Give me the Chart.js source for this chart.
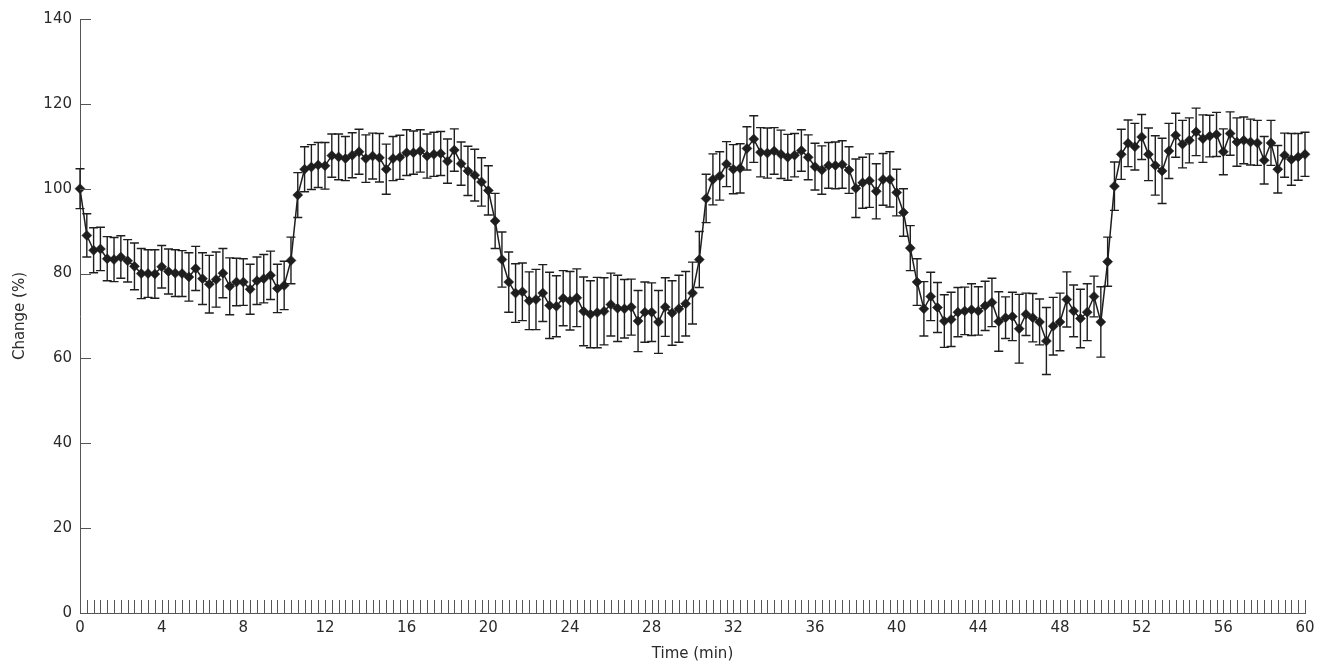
<!DOCTYPE html>
<html>
<head>
<meta charset="utf-8">
<title>Change (%) over time</title>
<script src="https://cdn.jsdelivr.net/npm/chart.js@4.4.1/dist/chart.umd.min.js"></script>
<style>
  body { margin: 0; background: #fff; }
  #wrap { width: 1324px; height: 665px; position: relative; }
</style>
</head>
<body>
<div id="wrap"><canvas id="chart"></canvas></div>
<script>
// samples every 20 s, 0 to 60 min
const times = Array.from({ length: 181 }, (_, i) => i / 3);

// mean change (%)
const change = [
  100.0, 89.0, 85.5, 85.8, 83.5, 83.3, 83.9, 83.0, 81.7, 80.0,
  80.0, 79.9, 81.6, 80.5, 80.1, 80.0, 79.2, 81.2, 78.8, 77.5,
  78.6, 80.1, 77.0, 78.0, 78.0, 76.3, 78.3, 78.8, 79.6, 76.5,
  77.2, 83.1, 98.5, 104.6, 105.1, 105.6, 105.4, 107.8, 107.5, 107.1,
  107.9, 108.7, 107.1, 107.7, 107.3, 104.6, 107.1, 107.4, 108.5, 108.5,
  108.9, 107.7, 108.1, 108.3, 106.5, 109.1, 105.9, 104.2, 103.2, 101.6,
  99.6, 92.4, 83.3, 78.0, 75.4, 75.7, 73.6, 73.9, 75.4, 72.5,
  72.3, 74.2, 73.6, 74.3, 71.1, 70.4, 70.8, 71.1, 72.7, 71.8,
  71.7, 72.1, 68.8, 70.9, 70.9, 68.6, 72.1, 70.7, 71.7, 72.9,
  75.4, 83.3, 97.7, 102.2, 103.0, 105.8, 104.6, 104.8, 109.5, 111.7,
  108.6, 108.4, 108.9, 108.1, 107.4, 107.9, 109.0, 107.4, 105.2, 104.4,
  105.5, 105.5, 105.7, 104.4, 100.1, 101.4, 101.9, 99.4, 102.2, 102.2,
  99.1, 94.4, 86.0, 78.0, 71.7, 74.6, 72.0, 68.8, 69.2, 70.9,
  71.2, 71.5, 71.2, 72.4, 73.2, 68.7, 69.6, 69.9, 67.0, 70.4,
  69.6, 68.6, 64.1, 67.6, 68.6, 73.9, 71.2, 69.4, 70.9, 74.6,
  68.6, 82.8, 100.6, 108.1, 110.7, 109.9, 112.2, 108.1, 105.5, 104.2,
  108.9, 112.6, 110.5, 111.4, 113.4, 111.8, 112.4, 112.8, 108.7, 113.0,
  111.0, 111.4, 111.0, 110.8, 106.7, 110.8, 104.6, 107.9, 106.9, 107.5,
  108.1
];

// error bar half-lengths
const sem = [
  4.7, 5.1, 5.3, 5.1, 5.2, 5.2, 5.0, 5.0, 5.5, 5.9,
  5.6, 5.7, 5.0, 5.3, 5.5, 5.4, 5.7, 5.2, 6.1, 6.8,
  6.5, 5.8, 6.7, 5.6, 5.5, 5.9, 5.6, 5.7, 5.7, 5.7,
  5.7, 5.5, 5.3, 5.3, 5.3, 5.3, 5.5, 5.1, 5.4, 5.2,
  5.3, 5.3, 5.6, 5.4, 5.7, 5.9, 5.2, 5.2, 5.4, 5.1,
  5.0, 5.2, 5.2, 5.2, 5.2, 5.0, 5.1, 5.8, 6.1, 5.7,
  5.8, 6.5, 6.5, 7.1, 6.9, 6.8, 6.8, 7.1, 6.7, 7.8,
  7.2, 6.5, 6.9, 6.8, 8.1, 7.9, 8.3, 7.9, 7.4, 7.8,
  6.9, 6.6, 7.2, 7.1, 6.9, 7.4, 6.9, 7.6, 7.9, 7.6,
  7.3, 6.6, 5.7, 6.0, 5.7, 5.3, 5.8, 5.8, 5.1, 5.5,
  5.8, 5.9, 5.5, 5.7, 5.4, 5.1, 4.9, 5.3, 5.5, 5.7,
  5.4, 5.5, 5.6, 5.5, 6.9, 6.0, 6.3, 6.5, 6.1, 6.5,
  5.5, 5.6, 5.3, 5.5, 6.4, 5.7, 5.9, 6.2, 6.4, 5.8,
  5.6, 6.1, 5.7, 5.8, 5.7, 7.0, 4.9, 5.7, 8.1, 5.0,
  5.7, 5.4, 7.9, 6.8, 6.8, 6.5, 6.1, 6.9, 6.7, 4.8,
  8.3, 5.8, 5.7, 5.9, 5.5, 5.5, 5.3, 6.2, 7.0, 7.7,
  6.5, 5.2, 5.6, 5.3, 5.6, 5.6, 4.9, 5.2, 5.4, 5.1,
  5.7, 5.5, 5.4, 5.3, 5.6, 5.3, 5.6, 5.2, 6.1, 5.5,
  5.2
];

const yTicks = [0, 20, 40, 60, 80, 100, 120, 140];
const xLabelEvery = 12; // one label every 4 min

const ink = '#1e1e1e';
const textInk = '#2a2a2a';
const axisGrey = '#555';
const fontFamily = '"DejaVu Sans", sans-serif';

const errorBars = {
  id: 'errorBars',
  beforeDatasetsDraw(chart) {
    const ctx = chart.ctx;
    const x = chart.scales.x, y = chart.scales.y;
    ctx.save();
    ctx.strokeStyle = ink;
    ctx.lineWidth = 1.4;
    for (let i = 0; i < times.length; i++) {
      const px = x.getPixelForValue(times[i]);
      const top = y.getPixelForValue(change[i] + sem[i]);
      const bot = y.getPixelForValue(change[i] - sem[i]);
      ctx.beginPath();
      ctx.moveTo(px, top); ctx.lineTo(px, bot);
      ctx.moveTo(px - 4.5, top); ctx.lineTo(px + 4.5, top);
      ctx.moveTo(px - 4.5, bot); ctx.lineTo(px + 4.5, bot);
      ctx.stroke();
    }
    ctx.restore();
  }
};

// tick marks point into the plot on both axes
const innerTicks = {
  id: 'innerTicks',
  afterDraw(chart) {
    const ctx = chart.ctx;
    const x = chart.scales.x, y = chart.scales.y;
    const area = chart.chartArea;
    ctx.save();
    ctx.strokeStyle = axisGrey;
    ctx.lineWidth = 1;
    ctx.beginPath();
    x.ticks.forEach(t => {
      const px = Math.round(x.getPixelForValue(t.value)) + 0.5;
      ctx.moveTo(px, area.bottom);
      ctx.lineTo(px, area.bottom - 13);
    });
    y.ticks.forEach(t => {
      const py = Math.round(y.getPixelForValue(t.value)) + 0.5;
      ctx.moveTo(area.left, py);
      ctx.lineTo(area.left + 11, py);
    });
    ctx.stroke();
    ctx.restore();
  }
};

new Chart(document.getElementById('chart'), {
  type: 'line',
  data: {
    datasets: [{
      data: times.map((t, i) => ({ x: t, y: change[i] })),
      borderColor: ink,
      borderWidth: 1.5,
      backgroundColor: ink,
      pointStyle: 'rectRot',
      pointRadius: 5,
      pointBorderWidth: 0.5,
      pointBackgroundColor: ink,
      pointBorderColor: ink,
      tension: 0,
      clip: false
    }]
  },
  options: {
    responsive: true,
    maintainAspectRatio: false,
    animation: false,
    layout: { padding: { top: 19, right: 19, left: 0, bottom: 0 } },
    plugins: { legend: { display: false }, tooltip: { enabled: false } },
    scales: {
      x: {
        type: 'linear',
        min: 0,
        max: 60,
        afterBuildTicks: s => { s.ticks = times.map(v => ({ value: v })); },
        afterFit: s => { s.height = 52; },
        grid: { display: false, drawTicks: false },
        border: { display: true, color: axisGrey, width: 1 },
        ticks: {
          autoSkip: false,
          maxRotation: 0,
          padding: 6,
          color: textInk,
          font: { family: fontFamily, size: 15 },
          callback: (v, i) => (i % xLabelEvery === 0 ? String(Math.round(v)) : '')
        },
        title: {
          display: true,
          text: 'Time (min)',
          color: textInk,
          font: { family: fontFamily, size: 15 },
          padding: { top: 0, bottom: 2 }
        }
      },
      y: {
        min: 0,
        max: 140,
        afterBuildTicks: s => { s.ticks = yTicks.map(v => ({ value: v })); },
        afterFit: s => { s.width = 80; },
        grid: { display: false, drawTicks: false },
        border: { display: true, color: axisGrey, width: 1 },
        ticks: {
          padding: 8,
          color: textInk,
          font: { family: fontFamily, size: 15 }
        },
        title: {
          display: true,
          text: 'Change (%)',
          color: textInk,
          font: { family: fontFamily, size: 15 },
          padding: { top: 11, bottom: 0 }
        }
      }
    }
  },
  plugins: [errorBars, innerTicks]
});
</script>
</body>
</html>
